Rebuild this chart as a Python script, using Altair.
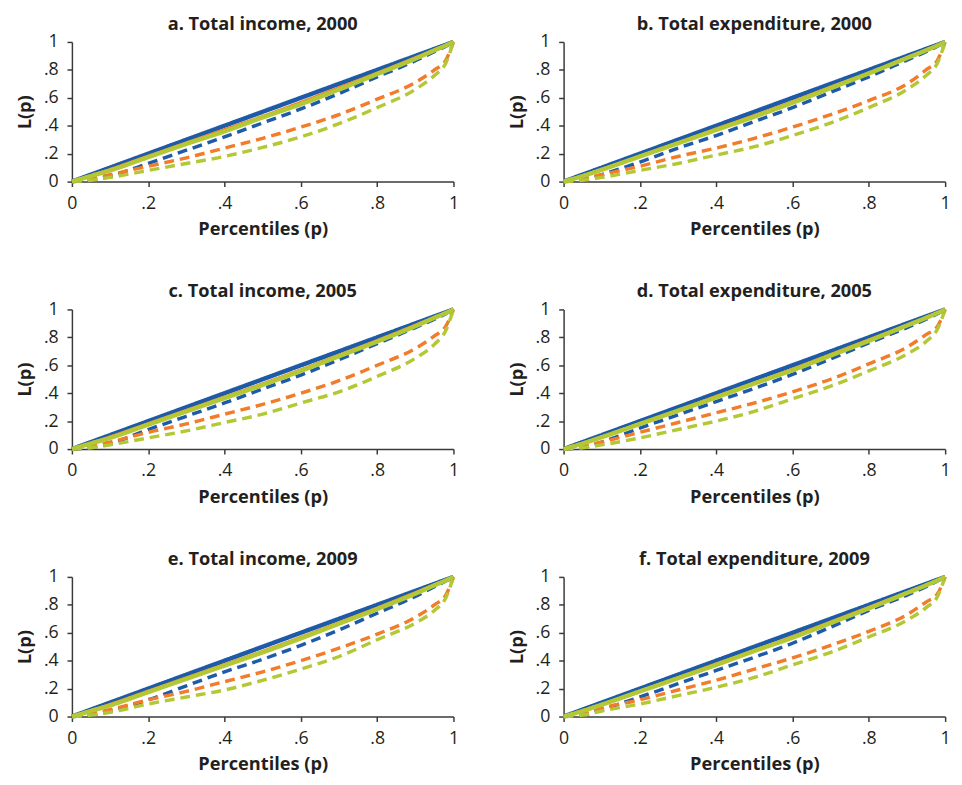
import altair as alt
import pandas as pd

# Percentiles (p)
p = [0, 0.05, 0.1, 0.2, 0.3, 0.4, 0.5, 0.6, 0.7, 0.8, 0.9, 0.95, 0.98, 1]

panel_titles = [
    "a. Total income, 2000", "b. Total expenditure, 2000",
    "c. Total income, 2005", "d. Total expenditure, 2005",
    "e. Total income, 2009", "f. Total expenditure, 2009",
]

series_names = ["blue dashed", "orange dashed", "green dashed",
                "blue solid", "orange solid", "green solid"]
series_colors = ["#1d5aa8", "#f27c2a", "#b4c835", "#1d5aa8", "#f27c2a", "#b4c835"]
series_dashed = [True, True, True, False, False, False]

diag = [0, 0.05, 0.1, 0.2, 0.3, 0.4, 0.5, 0.6, 0.7, 0.8, 0.9, 0.95, 0.98, 1]

# panel a
a_blue_d = [0, .01, .04, .13, .225, .32, .42, .52, .63, .75, .865, .93, .97, 1]
a_orange_d = [0, .02, .05, .11, .17, .24, .31, .39, .48, .59, .71, .80, .87, 1]
a_green_d = [0, .01, .03, .08, .13, .18, .245, .32, .415, .53, .66, .76, .85, 1]
a_orange_s = [0, .045, .09, .185, .28, .375, .47, .57, .675, .78, .89, .945, .978, 1]
a_green_s = [0, .04, .08, .175, .27, .36, .46, .555, .66, .77, .88, .94, .975, 1]
# panel b
b_blue_d = [0, .01, .05, .14, .24, .33, .43, .53, .64, .75, .87, .93, .97, 1]
b_orange_d = [0, .02, .05, .11, .18, .24, .31, .39, .48, .58, .70, .80, .87, 1]
b_green_d = [0, .01, .03, .08, .13, .19, .25, .33, .42, .53, .66, .76, .85, 1]
b_orange_s = [0, .045, .09, .185, .28, .38, .475, .575, .68, .78, .89, .945, .978, 1]
b_green_s = [0, .04, .085, .18, .275, .37, .465, .565, .67, .775, .885, .94, .975, 1]
# panel c
c_blue_d = [0, .01, .04, .14, .235, .33, .43, .53, .64, .755, .87, .93, .97, 1]
c_orange_d = [0, .02, .05, .12, .18, .25, .32, .40, .49, .60, .72, .81, .88, 1]
c_green_d = [0, .01, .03, .08, .13, .19, .25, .33, .41, .52, .65, .75, .85, 1]
c_orange_s = [0, .045, .09, .185, .28, .375, .47, .57, .675, .78, .89, .945, .978, 1]
c_green_s = [0, .04, .08, .175, .27, .365, .46, .56, .665, .77, .88, .94, .975, 1]
# panel d
d_blue_d = [0, .01, .05, .15, .245, .34, .435, .535, .645, .76, .87, .93, .97, 1]
d_orange_d = [0, .02, .05, .12, .19, .26, .33, .41, .50, .61, .73, .82, .88, 1]
d_green_d = [0, .01, .03, .08, .14, .20, .27, .36, .45, .56, .68, .77, .86, 1]
d_orange_s = [0, .045, .09, .185, .28, .38, .475, .575, .68, .785, .89, .945, .978, 1]
d_green_s = [0, .04, .085, .18, .275, .37, .47, .565, .67, .775, .885, .94, .975, 1]
# panel e
e_blue_d = [0, .01, .04, .12, .22, .32, .41, .51, .62, .74, .86, .93, .97, 1]
e_orange_d = [0, .02, .05, .12, .18, .25, .32, .40, .49, .59, .71, .80, .87, 1]
e_green_d = [0, .01, .03, .09, .14, .19, .26, .34, .43, .55, .67, .76, .85, 1]
e_orange_s = [0, .045, .09, .185, .28, .375, .47, .57, .675, .78, .89, .945, .978, 1]
e_green_s = [0, .04, .08, .175, .27, .365, .46, .56, .665, .77, .88, .94, .975, 1]
# panel f
f_blue_d = [0, .01, .05, .14, .235, .33, .425, .525, .64, .76, .87, .93, .97, 1]
f_orange_d = [0, .02, .06, .12, .19, .26, .34, .42, .51, .61, .73, .82, .88, 1]
f_green_d = [0, .01, .04, .09, .15, .21, .28, .37, .46, .57, .69, .78, .86, 1]
f_orange_s = [0, .045, .09, .185, .28, .38, .475, .575, .68, .785, .89, .945, .978, 1]
f_green_s = [0, .04, .085, .18, .275, .37, .47, .565, .67, .775, .885, .94, .975, 1]

panel_series = [
    [a_blue_d, a_orange_d, a_green_d, diag, a_orange_s, a_green_s],
    [b_blue_d, b_orange_d, b_green_d, diag, b_orange_s, b_green_s],
    [c_blue_d, c_orange_d, c_green_d, diag, c_orange_s, c_green_s],
    [d_blue_d, d_orange_d, d_green_d, diag, d_orange_s, d_green_s],
    [e_blue_d, e_orange_d, e_green_d, diag, e_orange_s, e_green_s],
    [f_blue_d, f_orange_d, f_green_d, diag, f_orange_s, f_green_s],
]

FONT = "Open Sans"
TXT = "#231f20"
label_expr = ("datum.value == 0 ? '0' : datum.value == 1 ? '1' : "
              "replace(format(datum.value, '.1f'), '0.', '.')")

x_axis = alt.Axis(values=[0, 0.2, 0.4, 0.6, 0.8, 1], labelExpr=label_expr,
                  title="Percentiles (p)", grid=False, titlePadding=8,
                  labelPadding=8)
y_axis = alt.Axis(values=[0, 0.2, 0.4, 0.6, 0.8, 1], labelExpr=label_expr,
                  title="L(p)", grid=False, titlePadding=9, labelPadding=9)


def make_panel(idx):
    layers = []
    for name, col, dashed, vals in zip(series_names, series_colors,
                                       series_dashed, panel_series[idx]):
        df = pd.DataFrame({"p": p, "L": vals, "series": name})
        mk = alt.Chart(df).mark_line(
            color=col,
            strokeWidth=3.5 if dashed else (2.5 if "orange" in name else 4.5),
            strokeDash=[10, 6] if dashed else [1, 0],
            interpolate="monotone",
            clip=False,
        ).encode(
            x=alt.X("p:Q", scale=alt.Scale(domain=[0, 1], nice=False), axis=x_axis),
            y=alt.Y("L:Q", scale=alt.Scale(domain=[0, 1], nice=False), axis=y_axis),
        )
        layers.append(mk)
    return alt.layer(*layers).properties(
        width=388, height=142,
        title=alt.TitleParams(panel_titles[idx], anchor="middle", offset=0),
    )


rows = []
for r in range(3):
    rows.append(alt.hconcat(make_panel(2 * r), make_panel(2 * r + 1), spacing=45))

chart = alt.vconcat(*rows, spacing=44).properties(
    padding={"left": 7, "top": 0, "right": 0, "bottom": 0}
).configure_view(
    stroke=None
).configure_axis(
    domainColor="#3a3a3a", domainWidth=1.5, tickColor="#3a3a3a", tickWidth=1.5,
    tickSize=5, labelFont=FONT, labelFontSize=18, labelColor=TXT,
    titleFont=FONT, titleFontSize=18.5, titleFontWeight="bold", titleColor=TXT,
    labelFlush=False,
).configure_title(
    font=FONT, fontSize=18.5, fontWeight="bold", color=TXT,
)

chart.save("out.html", embed_options={"renderer": "svg", "actions": False})
